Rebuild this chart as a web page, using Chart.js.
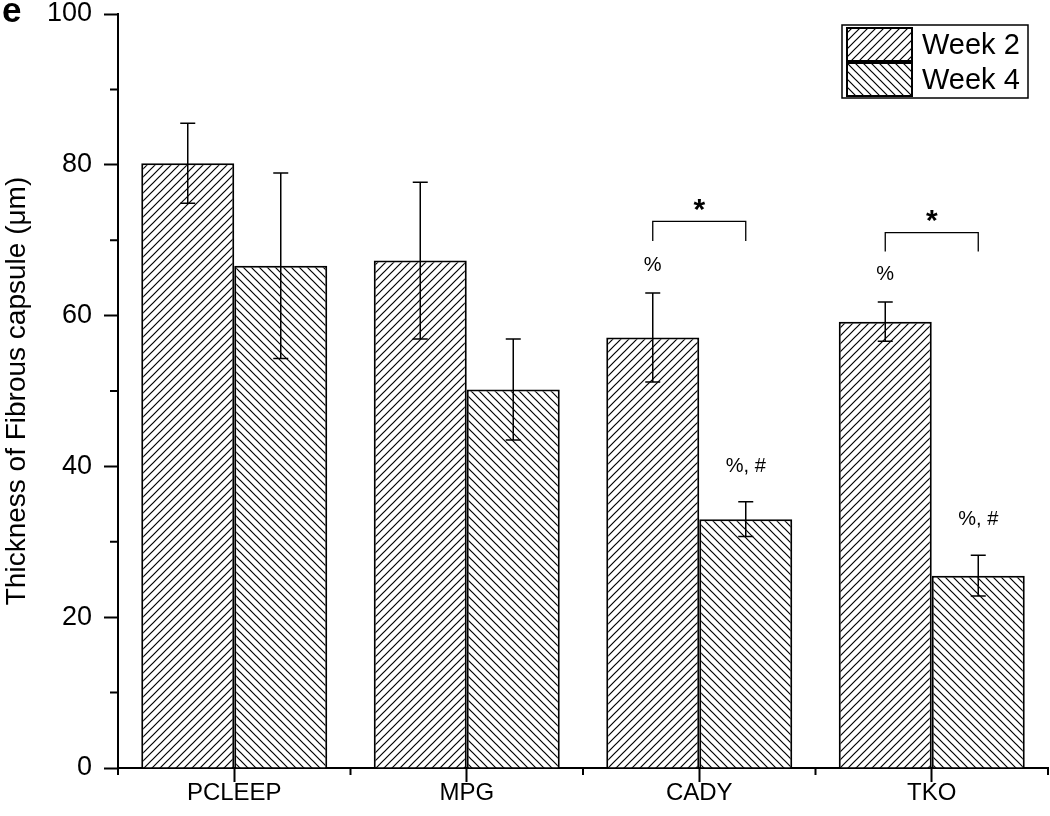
<!DOCTYPE html>
<html lang="en">
<head>
  <meta charset="UTF-8" />
  <title>Thickness of Fibrous capsule</title>
  <script src="https://cdn.jsdelivr.net/npm/chart.js@4.4.1/dist/chart.umd.min.js"></script>
  <style>
    body { margin: 0; background: #fff; }
    #chart { display: block; }
  </style>
</head>
<body>
  <canvas id="chart" width="1050" height="816"></canvas>

  <script>
    // --- data ---
    const groups = ['PCLEEP', 'MPG', 'CADY', 'TKO'];
    const seriesNames = ['Week 2', 'Week 4'];
    const week2 = [80.2, 67.3, 57.1, 59.2];
    const week2Err = [5.3, 10.4, 5.9, 2.6];
    const week4 = [66.6, 50.2, 33.0, 25.5];
    const week4Err = [12.3, 6.7, 2.3, 2.7];
    const yTicks = [0, 20, 40, 60, 80, 100];

    // marks above bars: group index, series index, y value, text
    const marks = [
      { g: 2, s: 0, y: 66.7, text: '%' },
      { g: 3, s: 0, y: 65.4, text: '%' },
      { g: 2, s: 1, y: 40.0, text: '%, #' },
      { g: 3, s: 1, y: 32.9, text: '%, #' }
    ];
    // significance brackets between week 2 and week 4
    const brackets = [
      { g: 2, top: 72.5, low: 69.9, text: '*' },
      { g: 3, top: 71.0, low: 68.5, text: '*' }
    ];

    Chart.defaults.font.family = '"Liberation Sans", Arial, sans-serif';
    Chart.defaults.color = '#000';

    function hatch(up) {
      const s = 8;
      const c = document.createElement('canvas');
      c.width = c.height = s;
      const g = c.getContext('2d');
      g.fillStyle = '#fff';
      g.fillRect(0, 0, s, s);
      g.strokeStyle = '#000';
      g.lineWidth = 1.2;
      g.beginPath();
      if (up) {
        g.moveTo(-1, s + 1); g.lineTo(s + 1, -1);
        g.moveTo(-2, 2); g.lineTo(2, -2);
        g.moveTo(s - 2, s + 2); g.lineTo(s + 2, s - 2);
      } else {
        g.moveTo(-1, -1); g.lineTo(s + 1, s + 1);
        g.moveTo(s - 2, -2); g.lineTo(s + 2, 2);
        g.moveTo(-2, s - 2); g.lineTo(2, s + 2);
      }
      g.stroke();
      return g.createPattern(c, 'repeat');
    }

    const errs = [week2Err, week4Err];

    // error bars, marks, brackets, minor ticks, legend, panel letter
    const extras = {
      id: 'extras',
      afterDatasetsDraw(chart) {
        const ctx = chart.ctx;
        const y = chart.scales.y;
        const area = chart.chartArea;
        ctx.save();
        ctx.strokeStyle = '#000';
        ctx.fillStyle = '#000';

        // error bars
        ctx.lineWidth = 1.5;
        chart.data.datasets.forEach((ds, di) => {
          chart.getDatasetMeta(di).data.forEach((bar, i) => {
            const hi = y.getPixelForValue(ds.data[i] + errs[di][i]);
            const lo = y.getPixelForValue(ds.data[i] - errs[di][i]);
            ctx.beginPath();
            ctx.moveTo(bar.x, hi); ctx.lineTo(bar.x, lo);
            ctx.moveTo(bar.x - 7.5, hi); ctx.lineTo(bar.x + 7.5, hi);
            ctx.moveTo(bar.x - 7.5, lo); ctx.lineTo(bar.x + 7.5, lo);
            ctx.stroke();
          });
        });

        // % / # marks
        ctx.font = '20px "Liberation Sans", Arial, sans-serif';
        ctx.textAlign = 'center';
        ctx.textBaseline = 'middle';
        marks.forEach(m => {
          const bar = chart.getDatasetMeta(m.s).data[m.g];
          ctx.fillText(m.text, bar.x, y.getPixelForValue(m.y));
        });

        // brackets
        ctx.lineWidth = 1.3;
        brackets.forEach(b => {
          const x1 = chart.getDatasetMeta(0).data[b.g].x;
          const x2 = chart.getDatasetMeta(1).data[b.g].x;
          const yt = y.getPixelForValue(b.top);
          const yl = y.getPixelForValue(b.low);
          ctx.beginPath();
          ctx.moveTo(x1, yl); ctx.lineTo(x1, yt); ctx.lineTo(x2, yt); ctx.lineTo(x2, yl);
          ctx.stroke();
          ctx.font = 'bold 30px "Liberation Sans", Arial, sans-serif';
          ctx.fillText(b.text, (x1 + x2) / 2, yt - 11);
        });

        // minor ticks
        ctx.lineWidth = 2;
        ctx.beginPath();
        for (let v = 10; v < 100; v += 20) {
          const py = y.getPixelForValue(v);
          ctx.moveTo(area.left - 8, py); ctx.lineTo(area.left, py);
        }
        const step = (area.right - area.left) / groups.length;
        for (let i = 0; i <= groups.length; i++) {
          const px = area.left + i * step;
          ctx.moveTo(px, area.bottom); ctx.lineTo(px, area.bottom + 7);
        }
        ctx.stroke();

        // legend
        const lx = 842, ly = 25, lw = 186, lh = 73;
        ctx.lineWidth = 1.5;
        ctx.strokeRect(lx, ly, lw, lh);
        ctx.font = '29px "Liberation Sans", Arial, sans-serif';
        ctx.textAlign = 'left';
        chart.data.datasets.forEach((ds, di) => {
          const sy = ly + 3 + di * 35;
          ctx.fillStyle = ds.backgroundColor;
          ctx.fillRect(lx + 5, sy, 65, 33);
          ctx.lineWidth = 2;
          ctx.strokeRect(lx + 5, sy, 65, 33);
          ctx.fillStyle = '#000';
          ctx.fillText(ds.label, lx + 80, sy + 18);
        });

        // panel letter
        ctx.font = 'bold 35px "Liberation Sans", Arial, sans-serif';
        ctx.textAlign = 'left';
        ctx.fillText('e', 2, 12);
        ctx.restore();
      }
    };

    new Chart(document.getElementById('chart'), {
      type: 'bar',
      data: {
        labels: groups,
        datasets: [
          {
            label: seriesNames[0],
            data: week2,
            backgroundColor: hatch(true),
            borderColor: '#000',
            borderWidth: 2
          },
          {
            label: seriesNames[1],
            data: week4,
            backgroundColor: hatch(false),
            borderColor: '#000',
            borderWidth: 2
          }
        ]
      },
      options: {
        responsive: false,
        animation: false,
        layout: { padding: { top: 14, right: 2, left: 0, bottom: 0 } },
        datasets: { bar: { categoryPercentage: 0.8, barPercentage: 1 } },
        plugins: { legend: { display: false }, tooltip: { enabled: false } },
        scales: {
          x: {
            offset: true,
            grid: { offset: false, drawOnChartArea: false, tickLength: 14, tickWidth: 2, tickColor: '#000' },
            border: { color: '#000', width: 2 },
            ticks: { font: { size: 24, lineHeight: 1 }, padding: -1 },
            afterFit(s) { s.height = 48; s.paddingLeft = 0; s.paddingRight = 0; }
          },
          y: {
            min: 0,
            max: 100,
            afterBuildTicks(s) { s.ticks = yTicks.map(v => ({ value: v })); },
            grid: { drawOnChartArea: false, tickLength: 14, tickWidth: 2, tickColor: '#000' },
            border: { color: '#000', width: 2 },
            ticks: { font: { size: 27, lineHeight: 1 }, padding: 12 },
            title: {
              display: true,
              text: 'Thickness of Fibrous capsule (μm)',
              font: { size: 28 },
              padding: { top: 0, bottom: 0 }
            },
            afterFit(s) { s.width = 118; s.paddingTop = 0; s.paddingBottom = 0; }
          }
        }
      },
      plugins: [extras]
    });
  </script>
</body>
</html>
